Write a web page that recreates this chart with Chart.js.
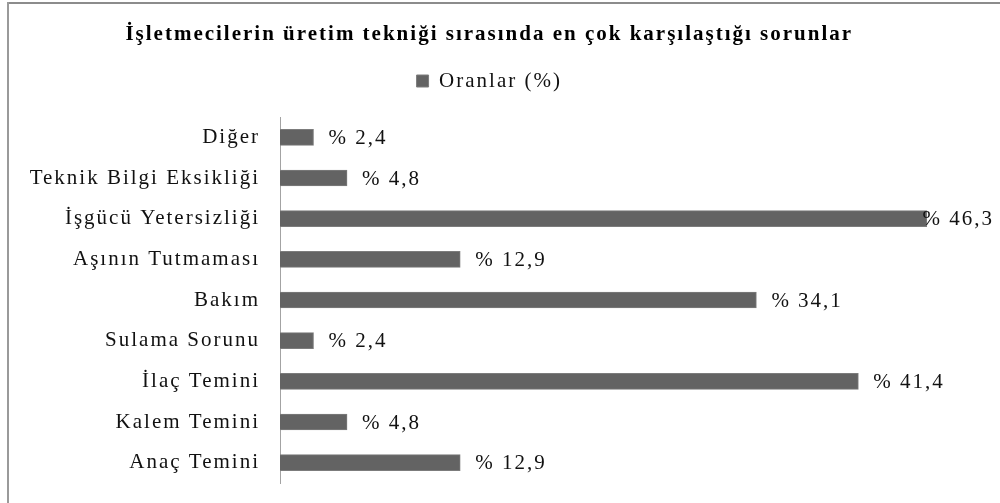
<!DOCTYPE html>
<html lang="tr">
<head>
<meta charset="utf-8">
<title>Sorunlar</title>
<script src="https://cdn.jsdelivr.net/npm/chart.js@4/dist/chart.umd.min.js"></script>
<style>
  html, body { margin: 0; padding: 0; background: #fff; }
  #wrap { position: relative; width: 1000px; height: 503px; }
</style>
</head>
<body>
<div id="wrap">
  <canvas id="sorunChart" width="1000" height="503" style="width:1000px;height:503px"></canvas>
</div>
<script>
const kategoriler = ['Diğer', 'Teknik Bilgi Eksikliği', 'İşgücü Yetersizliği', 'Aşının Tutmaması',
  'Bakım', 'Sulama Sorunu', 'İlaç Temini', 'Kalem Temini', 'Anaç Temini'];
const oranlar = [2.4, 4.8, 46.3, 12.9, 34.1, 2.4, 41.4, 4.8, 12.9];
const seriAdi = 'Oranlar (%)';
const baslik = 'İşletmecilerin üretim tekniği sırasında en çok karşılaştığı sorunlar';

const yazi = 'Liberation Serif, Times New Roman, serif';
Chart.defaults.color = '#111';

// wide, spaced-out text like the old office rendering
const harfAraligi = {
  id: 'harfAraligi',
  beforeUpdate(chart) { chart.ctx.letterSpacing = '2px'; },
  beforeDraw(chart) {
    const ctx = chart.ctx;
    ctx.save();
    ctx.fillStyle = '#fff';
    ctx.fillRect(0, 0, chart.width, chart.height);
    ctx.restore();
    ctx.letterSpacing = '2px';
  }
};

// frame: only the top and left edges show
const cerceve = {
  id: 'cerceve',
  afterDraw(chart) {
    const ctx = chart.ctx;
    ctx.save();
    ctx.fillStyle = '#8c8c8c';
    ctx.fillRect(7, 2, chart.width - 7, 2);
    ctx.fillStyle = '#9a9a9a';
    ctx.fillRect(7, 2, 2, chart.height - 2);
    ctx.restore();
  }
};

// "% 12,9" style value labels right of each bar
const degerEtiketi = {
  id: 'degerEtiketi',
  afterDatasetsDraw(chart) {
    const ctx = chart.ctx;
    const meta = chart.getDatasetMeta(0);
    ctx.save();
    ctx.font = '21px ' + yazi;
    ctx.fillStyle = '#111';
    ctx.textBaseline = 'middle';
    ctx.textAlign = 'left';
    meta.data.forEach((bar, i) => {
      const t = '% ' + oranlar[i].toFixed(1).replace('.', ',');
      const w = ctx.measureText(t).width;
      let x = bar.x + 15;
      if (x + w > chart.width - 6) x = chart.width - 6 - w;
      ctx.fillText(t, x, bar.y + 1);
    });
    ctx.restore();
  }
};

new Chart(document.getElementById('sorunChart'), {
  type: 'bar',
  data: {
    labels: kategoriler,
    datasets: [{
      label: seriAdi,
      data: oranlar,
      backgroundColor: '#636363',
      borderColor: '#7c7c7c',
      borderWidth: 1,
      barThickness: 16
    }]
  },
  options: {
    indexAxis: 'y',
    responsive: false,
    animation: false,
    devicePixelRatio: 1,
    layout: { padding: { top: 0, left: 0, right: 21.5, bottom: 20 } },
    plugins: {
      title: {
        display: true,
        text: baslik,
        color: '#000',
        font: { family: yazi, size: 21, weight: 'bold', lineHeight: 1.2 },
        padding: { top: 22, bottom: 13.3 }
      },
      legend: {
        display: true,
        position: 'top',
        labels: {
          color: '#111',
          font: { family: yazi, size: 21 },
          boxWidth: 12,
          boxHeight: 12,
          padding: 10
        }
      },
      tooltip: { enabled: false }
    },
    scales: {
      x: {
        position: 'top',
        min: 0,
        max: 50,
        ticks: { display: false },
        grid: { display: false, drawTicks: false },
        border: { display: false },
        afterFit(axis) { axis.height = 15.5; }
      },
      y: {
        ticks: {
          color: '#111',
          font: { family: yazi, size: 21 },
          padding: 20
        },
        grid: { display: false, drawTicks: false },
        border: { display: true, color: '#a3a3a3', width: 1 },
        afterFit(axis) {
          axis.width = 280;
          axis.paddingTop = 0;
          axis.paddingBottom = 0;
        }
      }
    }
  },
  plugins: [harfAraligi, degerEtiketi, cerceve]
});
</script>
</body>
</html>
